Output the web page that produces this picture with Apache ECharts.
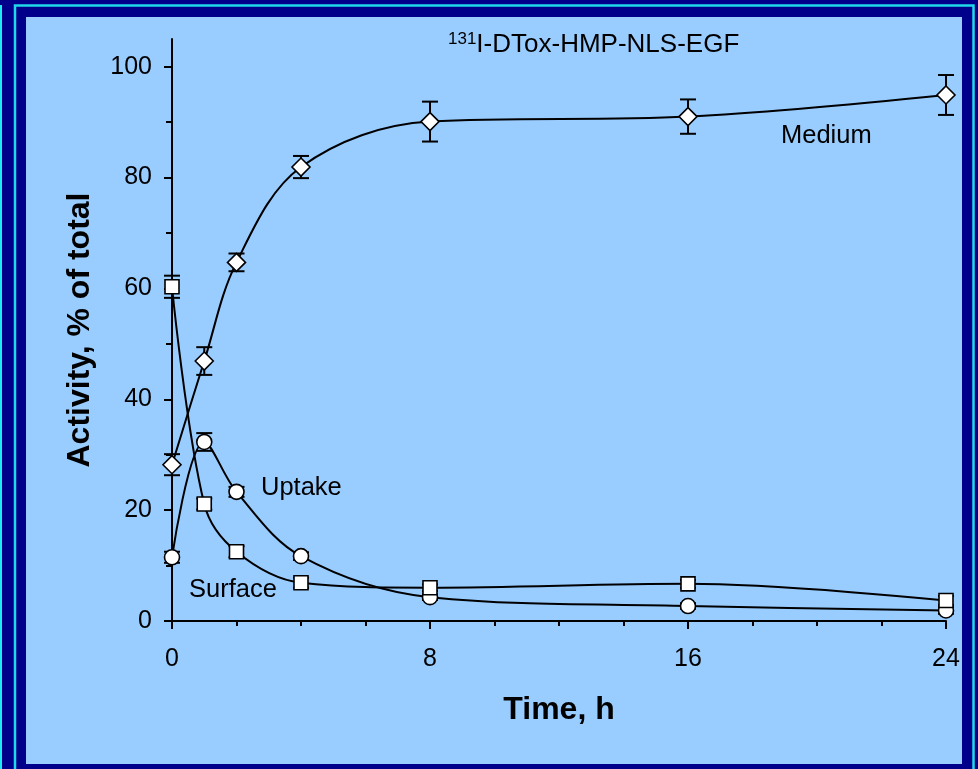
<!DOCTYPE html>
<html>
<head>
<meta charset="utf-8">
<script src="https://cdn.jsdelivr.net/npm/echarts@6/dist/echarts.min.js"></script>
<style>
  html, body { margin: 0; padding: 0; background: #00008B; }
  #chart { width: 978px; height: 769px; }
</style>
</head>
<body>
<div id="chart"></div>
<script>
// Sampling times (h)
const times = [0, 1, 2, 4, 8, 16, 24];

// Activity, % of total, with ± error
const medium     = [28.2, 46.9, 64.7, 81.9, 90.1, 91.0, 94.9];
const mediumErr  = [1.9, 2.5, 1.6, 2.0, 3.6, 3.1, 3.6];
const uptake     = [11.5, 32.3, 23.3, 11.7, 4.3, 2.7, 1.9];
const uptakeErr  = [1.0, 1.6, 0.9, 0.7, 0.5, 0.5, 0.6];
const surface    = [60.3, 21.1, 12.5, 6.9, 6.0, 6.7, 3.7];
const surfaceErr = [2.0, 1.0, 1.0, 0.9, 0.6, 0.7, 0.8];

const yMajor = [0, 20, 40, 60, 80, 100];
const yMinor = [10, 30, 50, 70, 90];
const xTicks = [0, 8, 16, 24];

const FONT = '"Liberation Sans", Arial, sans-serif';

const pairs = (ys) => times.map((t, i) => [t, ys[i]]);
const errRows = (ys, es) => times.map((t, i) => [t, ys[i] - es[i], ys[i] + es[i]]);

function errorBarSeries(rows) {
  return {
    type: 'custom',
    z: 1,
    silent: true,
    data: rows,
    encode: { x: 0, y: [1, 2] },
    renderItem: function (params, api) {
      const lo = api.coord([api.value(0), api.value(1)]);
      const hi = api.coord([api.value(0), api.value(2)]);
      const hw = 8;
      const style = { stroke: '#000', lineWidth: 2, fill: null };
      return {
        type: 'group',
        children: [
          { type: 'line', shape: { x1: lo[0], y1: lo[1], x2: hi[0], y2: hi[1] }, style: style },
          { type: 'line', shape: { x1: lo[0] - hw, y1: lo[1], x2: lo[0] + hw, y2: lo[1] }, style: style },
          { type: 'line', shape: { x1: hi[0] - hw, y1: hi[1], x2: hi[0] + hw, y2: hi[1] }, style: style }
        ]
      };
    }
  };
}

function curveSeries(name, ys, symbol, size) {
  return {
    name: name,
    type: 'line',
    z: 3,
    data: pairs(ys),
    smooth: 0.35,
    symbol: symbol,
    symbolSize: size,
    showAllSymbol: true,
    lineStyle: { color: '#000', width: 2 },
    itemStyle: { color: '#fff', borderColor: '#000', borderWidth: 1.6 },
    emphasis: { disabled: true }
  };
}

const chart = echarts.init(document.getElementById('chart'), null, { renderer: 'canvas' });

chart.setOption({
  animation: false,
  backgroundColor: '#00008B',
  textStyle: { fontFamily: FONT },
  graphic: [
    { type: 'rect', z: -100, shape: { x: 0, y: 5, width: 2, height: 764 }, style: { fill: '#22E8F0' } },
    { type: 'rect', z: -100, shape: { x: 15, y: 5.5, width: 958.5, height: 800 },
      style: { fill: null, stroke: '#1FD8E8', lineWidth: 2.5 } },
    { type: 'rect', z: -99, shape: { x: 26, y: 17, width: 936, height: 747 }, style: { fill: '#99CCFF' } },
    {
      type: 'text', z: 50, left: 448, top: 31,
      style: {
        text: '{sup|131}I-DTox-HMP-NLS-EGF',
        font: '26px ' + FONT, fill: '#000',
        rich: { sup: { fontSize: 17, fontFamily: FONT, fill: '#000', verticalAlign: 'top', padding: [0, 0, 10, 0] } }
      }
    },
    { type: 'text', z: 50, left: 781, top: 123, style: { text: 'Medium', font: '25.5px ' + FONT, fill: '#000' } },
    { type: 'text', z: 50, left: 261, top: 475, style: { text: 'Uptake', font: '25.5px ' + FONT, fill: '#000' } },
    { type: 'text', z: 50, left: 189, top: 577, style: { text: 'Surface', font: '25.5px ' + FONT, fill: '#000' } }
  ],
  grid: { left: 172, right: 32, top: 39, bottom: 148, containLabel: false },
  xAxis: {
    type: 'value',
    min: 0, max: 24, interval: 8,
    name: 'Time, h',
    nameLocation: 'middle',
    nameGap: 73,
    nameTextStyle: { fontSize: 32, fontWeight: 'bold', color: '#000', fontFamily: FONT },
    axisLine: { lineStyle: { color: '#000', width: 2 } },
    axisTick: { inside: false, length: 8, lineStyle: { color: '#000', width: 2 } },
    minorTick: { show: true, splitNumber: 4, length: 5, lineStyle: { color: '#000', width: 2 } },
    axisLabel: { fontSize: 25, color: '#000', margin: 26, fontFamily: FONT,
                 customValues: xTicks },
    splitLine: { show: false }
  },
  yAxis: [
    {
      type: 'value',
      min: 0, max: 105,
      name: 'Activity, % of total',
      nameLocation: 'middle',
      nameGap: 76,
      nameTextStyle: { fontSize: 32, fontWeight: 'bold', color: '#000', fontFamily: FONT },
      axisLine: { lineStyle: { color: '#000', width: 2 } },
      axisTick: { inside: false, length: 8, lineStyle: { color: '#000', width: 2 }, customValues: yMajor },
      axisLabel: { fontSize: 25, color: '#000', margin: 20, fontFamily: FONT, customValues: yMajor },
      splitLine: { show: false }
    },
    {
      type: 'value',
      min: 0, max: 105,
      position: 'left',
      axisLine: { show: false },
      axisTick: { inside: false, length: 6, lineStyle: { color: '#000', width: 2 }, customValues: yMinor },
      axisLabel: { show: false },
      splitLine: { show: false }
    }
  ],
  series: [
    errorBarSeries(errRows(medium, mediumErr)),
    errorBarSeries(errRows(uptake, uptakeErr)),
    errorBarSeries(errRows(surface, surfaceErr)),
    curveSeries('Medium', medium, 'diamond', 18),
    curveSeries('Uptake', uptake, 'circle', 15),
    curveSeries('Surface', surface, 'rect', 14)
  ]
});
</script>
</body>
</html>
